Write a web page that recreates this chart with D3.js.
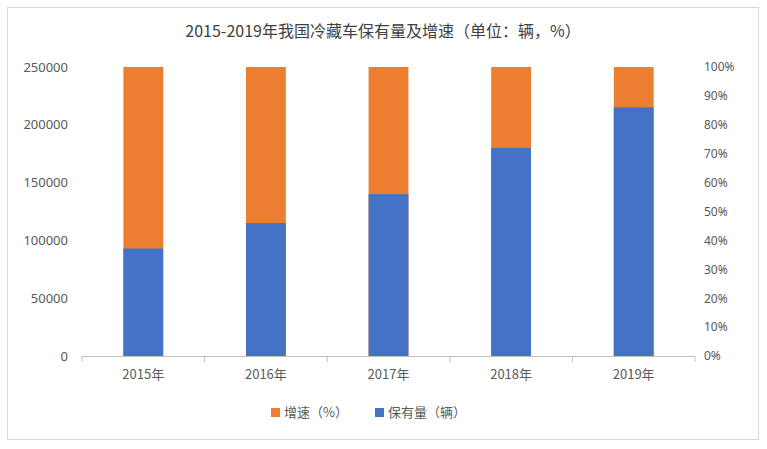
<!DOCTYPE html>
<html><head><meta charset="utf-8">
<script src="https://cdn.jsdelivr.net/npm/d3@7"></script>
<style>body{margin:0;background:#fff}svg{display:block}text{font-family:"Noto Sans CJK SC","Noto Sans",sans-serif;fill:#595959}</style>
</head><body><svg id="c" width="767" height="449"></svg>
<script>
const categories=["2015年","2016年","2017年","2018年","2019年"];
const holdings=[93000,115000,140000,180000,215000];
const growthPct=[100,100,100,100,100];
const leftTicks=[0,50000,100000,150000,200000,250000];
const rightTicks=[0,10,20,30,40,50,60,70,80,90,100];
const title="2015-2019年我国冷藏车保有量及增速（单位：辆，%）";
const legendLabels=["增速（%）","保有量（辆）"];

const svg=d3.select("#c");
svg.append("rect").attr("x",7.5).attr("y",7.5).attr("width",751).attr("height",432).attr("fill","none").attr("stroke","#d9d9d9");
const L=82,R=695,T=67,B=356;
const x=d3.scaleBand().domain(categories).range([L,R]).paddingInner(0.675).paddingOuter(0.3375);
const y=d3.scaleLinear().domain([0,250000]).range([B,T]);
const y2=d3.scaleLinear().domain([0,100]).range([B,T]);
svg.append("text").attr("x",383).attr("y",37).attr("text-anchor","middle").style("font-size","16px").style("fill","#404040").text(title);
svg.selectAll(".o").data(growthPct).enter().append("rect").attr("x",(d,i)=>x(categories[i])).attr("width",x.bandwidth()).attr("y",d=>y2(d)).attr("height",d=>B-y2(d)).attr("fill","#ed7d31");
svg.selectAll(".b").data(holdings).enter().append("rect").attr("x",(d,i)=>x(categories[i])).attr("width",x.bandwidth()).attr("y",d=>y(d)).attr("height",d=>B-y(d)).attr("fill","#4472c4");
const ga=svg.append("g").attr("transform",`translate(${L-11},0)`).call(d3.axisLeft(y).tickValues(leftTicks).tickSize(0).tickFormat(d3.format("d")));
ga.select(".domain").remove();ga.selectAll("text").style("font-size","13px").style("font-family","'Noto Sans',sans-serif").style("fill","#595959");
const gr=svg.append("g").attr("transform",`translate(${R+6},0)`).call(d3.axisRight(y2).tickValues(rightTicks).tickSize(0).tickFormat(d=>d+"%"));
gr.select(".domain").remove();gr.selectAll("text").style("font-size","12px").style("font-family","'Noto Sans',sans-serif").style("fill","#595959");
const step=(R-L)/categories.length;
const gx=svg.append("g");
gx.append("line").attr("x1",L).attr("x2",R).attr("y1",B+0.5).attr("y2",B+0.5).attr("stroke","#bfbfbf");
d3.range(categories.length+1).forEach(i=>gx.append("line").attr("x1",L+i*step).attr("x2",L+i*step).attr("y1",B).attr("y2",B+6).attr("stroke","#bfbfbf"));
const gb=svg.append("g").attr("transform",`translate(0,${B})`).call(d3.axisBottom(x).tickSize(0).tickPadding(14));
gb.select(".domain").remove();gb.selectAll("text").style("font-size","13px");
const lg=svg.append("g");
[["#ed7d31",legendLabels[0],271],["#4472c4",legendLabels[1],375]].forEach(([c,t,lx])=>{
 lg.append("rect").attr("x",lx).attr("y",408).attr("width",9).attr("height",9).attr("fill",c);
 lg.append("text").attr("x",lx+13).attr("y",417).style("font-size","13px").text(t);
});
</script></body></html>
